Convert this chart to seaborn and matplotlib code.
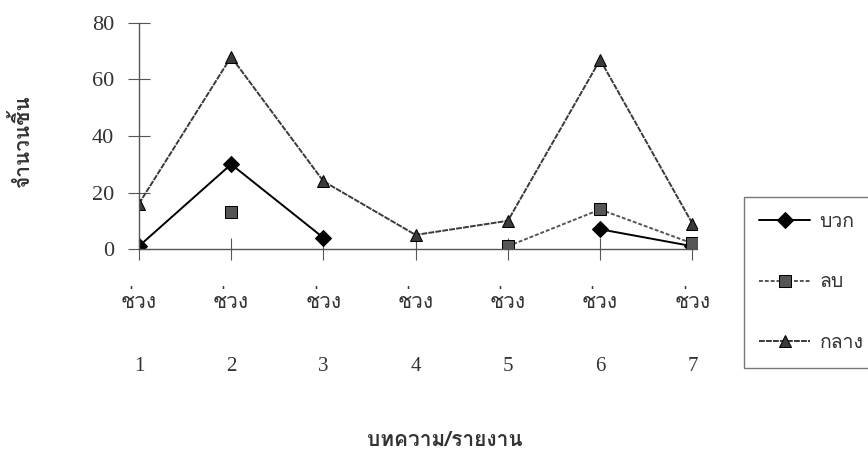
import numpy as np
import pandas as pd
import matplotlib
matplotlib.use('Agg')
import matplotlib.pyplot as plt
import seaborn as sns
from matplotlib import font_manager
from matplotlib.ft2font import FT2Font

# Data (nan = no point drawn)
periods = [1, 2, 3, 4, 5, 6, 7]
tick_labels = ['ช่วง\n1', 'ช่วง\n2', 'ช่วง\n3', 'ช่วง\n4', 'ช่วง\n5', 'ช่วง\n6', 'ช่วง\n7']
series_names = ['บวก', 'ลบ', 'กลาง']
positive = [1, 30, 4, np.nan, np.nan, 7, 1]
negative = [np.nan, 13, np.nan, np.nan, 1, 14, 2]
neutral = [16, 68, 24, 5, 10, 67, 9]


# find a font that has Thai glyphs
def find_thai_font():
    for f in font_manager.fontManager.ttflist:
        try:
            if ord('ช') in FT2Font(f.fname).get_charmap():
                return f.name
        except Exception:
            pass
    return 'DejaVu Sans'


thai_font = find_thai_font()

# long-form table, with a segment id so gaps (nan) break the lines
rows = []
for name, values in zip(series_names, [positive, negative, neutral]):
    seg = 0
    for p, v in zip(periods, values):
        if np.isnan(v):
            seg += 1
            continue
        rows.append({'period': p, 'count': v, 'series': name, 'seg': f'{name}{seg}'})
df = pd.DataFrame(rows)

sns.set_theme(style='white')
plt.rcParams['font.family'] = [thai_font, 'Liberation Serif', 'DejaVu Sans']

fig = plt.figure(figsize=(8.68, 4.69), dpi=100)
ax = fig.add_axes([0.160, 0.469, 0.643, 0.482])

sns.lineplot(data=df, x='period', y='count', hue='series', style='series',
             units='seg', estimator=None, hue_order=series_names, style_order=series_names,
             palette={'บวก': 'black', 'ลบ': '#555555', 'กลาง': '#3a3a3a'},
             markers={'บวก': 'D', 'ลบ': 's', 'กลาง': '^'},
             dashes={'บวก': '', 'ลบ': (2, 1), 'กลาง': (3, 0.6)},
             markersize=8, linewidth=1.4, markeredgecolor='black', ax=ax)

ax.set_xlim(1, 7.05)
ax.set_ylim(0, 80)
ax.set_yticks([0, 20, 40, 60, 80])
ax.set_xticks(periods)
ax.set_xticklabels(tick_labels, linespacing=4.2)
sns.despine(ax=ax)
for s in ['left', 'bottom']:
    ax.spines[s].set_color('#555555')
    ax.spines[s].set_linewidth(1)
ax.tick_params(axis='both', direction='inout', length=16, width=0.8, color='#555555',
               labelsize=15, labelcolor='#333333', bottom=True, left=True)
ax.tick_params(axis='x', pad=22)
ax.tick_params(axis='y', pad=10, labelsize=16)
for lab in ax.get_yticklabels():
    lab.set_family(['Liberation Serif'])
for lab in ax.get_xticklabels():
    lab.set_family(['Liberation Serif', thai_font])

ax.set_xlabel('')
ax.set_ylabel('')
fig.text(0.512, 0.06, 'บทความ/รายงาน', ha='center', va='center', fontsize=15,
         fontweight='bold', color='#333333')
fig.text(0.025, 0.70, 'จำนวนชิ้น', ha='center', va='center', rotation=90, fontsize=15,
         fontweight='bold', color='#333333')

handles, labels = ax.get_legend_handles_labels()
ax.get_legend().remove()
leg = fig.legend(handles, labels, loc='upper left', bbox_to_anchor=(0.857, 0.58),
                 fontsize=14, labelspacing=2.2, handlelength=2.6, handletextpad=0.5,
                 frameon=True, fancybox=False, borderpad=0.8, borderaxespad=0,
                 labelcolor='#333333')
leg.get_frame().set_edgecolor('#555555')
leg.get_frame().set_linewidth(1)

fig.savefig('out.png', dpi=100)
